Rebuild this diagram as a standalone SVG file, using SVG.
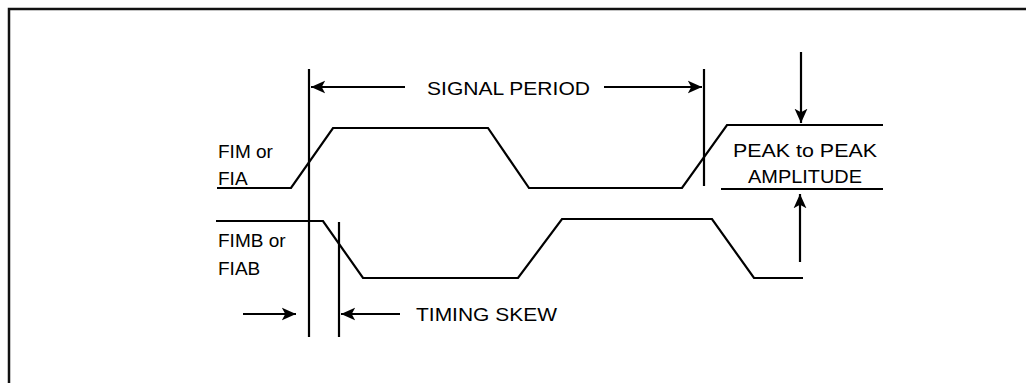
<svg xmlns="http://www.w3.org/2000/svg" width="1026" height="383" viewBox="0 0 1026 383">
<defs>
<style>
.ln{fill:none;stroke:#000;stroke-width:2.2;stroke-linejoin:miter}
.fr{fill:none;stroke:#111;stroke-width:2.5}
text{font-family:"Liberation Sans",Arial,sans-serif;font-size:19px;fill:#000}
</style>
<marker id="ah2" viewBox="0 0 10 10" refX="10" refY="5" markerWidth="6.5" markerHeight="6.5" orient="auto">
<path d="M0,0.5 L10,5 L0,9.5 L2.5,5 z" fill="#000"/>
</marker>
</defs>
<rect width="1026" height="383" fill="#fff"/>
<path class="fr" d="M9,383 V9 H1026"/>
<g id="connectors">
<line class="ln" x1="309" y1="69" x2="309" y2="337"/>
<line class="ln" x1="339" y1="222" x2="339" y2="337"/>
<line class="ln" x1="704" y1="69" x2="704" y2="186"/>
<line class="ln" x1="405" y1="87" x2="311" y2="87" marker-end="url(#ah2)"/>
<line class="ln" x1="604" y1="87" x2="702" y2="87" marker-end="url(#ah2)"/>
<line class="ln" x1="243" y1="314" x2="296" y2="314" marker-end="url(#ah2)"/>
<line class="ln" x1="400" y1="314" x2="341" y2="314" marker-end="url(#ah2)"/>
<line class="ln" x1="801" y1="52" x2="801" y2="123" marker-end="url(#ah2)"/>
<line class="ln" x1="800" y1="262" x2="800" y2="194" marker-end="url(#ah2)"/>
<line class="ln" x1="721" y1="189" x2="883" y2="189"/>
</g>
<g id="fim">
<polyline class="ln" points="217,188 291,188 333,128 488,128 529,188 682,188 727,125 883,125"/>
</g>
<g id="fimb">
<polyline class="ln" points="216,221 323,221 363,278 518,278 562,219 712,219 754,278 803,278"/>
</g>
<g id="labels">
<text x="427" y="95" textLength="163" lengthAdjust="spacingAndGlyphs">SIGNAL PERIOD</text>
<text x="416" y="321" textLength="141" lengthAdjust="spacingAndGlyphs">TIMING SKEW</text>
<text x="733" y="157" textLength="144" lengthAdjust="spacingAndGlyphs">PEAK to PEAK</text>
<text x="748" y="183" textLength="114" lengthAdjust="spacingAndGlyphs">AMPLITUDE</text>
<text x="218" y="158">FIM or</text>
<text x="218" y="185">FIA</text>
<text x="218" y="247">FIMB or</text>
<text x="218" y="275">FIAB</text>
</g>
</svg>
